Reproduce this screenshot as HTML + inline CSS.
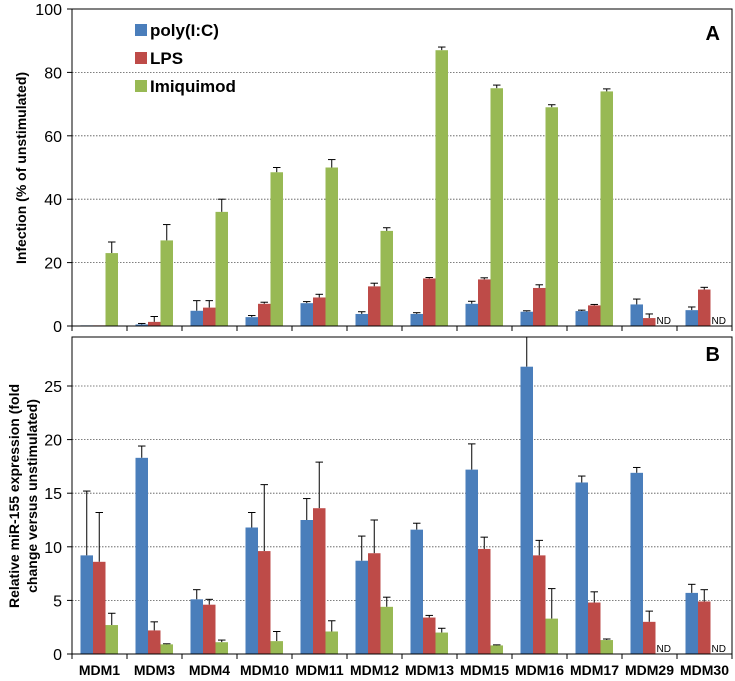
<!DOCTYPE html>
<html><head><meta charset="utf-8"><style>
body{margin:0;background:#fff}
svg{display:block;font-family:"Liberation Sans",Arial,sans-serif}
</style></head><body>
<svg id="c" width="735" height="681"></svg>
<script>
const categories=["MDM1","MDM3","MDM4","MDM10","MDM11","MDM12","MDM13","MDM15","MDM16","MDM17","MDM29","MDM30"];
const seriesNames=["poly(I:C)","LPS","Imiquimod"];
const infPoly=[0.2,0.5,4.8,2.8,7.2,3.8,3.8,7,4.5,4.7,6.8,5];
const infPolyErr=[0,0.3,3.2,0.5,0.5,0.7,0.4,0.8,0.3,0.3,1.7,1];
const infLps=[0.2,1.3,5.8,7,9,12.5,15,14.7,12,6.5,2.5,11.5];
const infLpsErr=[0,1.7,2.2,0.5,1,1,0.3,0.5,1,0.3,1.3,0.7];
const infImq=[23,27,36,48.5,50,30,87,75,69,74,null,null];
const infImqErr=[3.5,5,4,1.5,2.5,1,1,1,0.8,0.8,0,0];
const mirPoly=[9.2,18.3,5.1,11.8,12.5,8.7,11.6,17.2,26.8,16,16.9,5.7];
const mirPolyErr=[6,1.1,0.9,1.4,2,2.3,0.6,2.4,2.8,0.6,0.5,0.8];
const mirLps=[8.6,2.2,4.6,9.6,13.6,9.4,3.4,9.8,9.2,4.8,3,4.9];
const mirLpsErr=[4.6,0.8,0.5,6.2,4.3,3.1,0.2,1.1,1.4,1,1,1.1];
const mirImq=[2.7,0.9,1.1,1.2,2.1,4.4,2,0.8,3.3,1.3,null,null];
const mirImqErr=[1.1,0.05,0.2,0.9,1,0.9,0.4,0.05,2.8,0.1,0,0];
const ticksA=[0,20,40,60,80,100];
const ticksB=[0,5,10,15,20,25];
const colors=["#4a7ebb","#be4b48","#98b954"];
const NS="http://www.w3.org/2000/svg";
const svg=document.getElementById('c');
function mk(t,a,p){const e=document.createElementNS(NS,t);for(const k in a)e.setAttribute(k,a[k]);(p||svg).appendChild(e);return e;}
const X0=72,X1=732,cw=(X1-X0)/categories.length;
function xs(i,s){return X0+i*cw+8.5+s*12.5;}
function drawPanel(frameTop,bottom,scaleY,ticks,series,errs,letter,pname){
  const y=v=>bottom-v*scaleY;
  const g=mk('g',{});
  
  
  ticks.forEach(t=>{
    if(t>0&&y(t)>frameTop+2){const l=mk('line',{x1:X0,x2:X1,y1:y(t),y2:y(t),stroke:'#555','stroke-width':0.8,'stroke-dasharray':'1.5,1.5'},g);
    
    }
    mk('line',{x1:X0-5,x2:X0,y1:y(t),y2:y(t),stroke:'#000'},g);
    const tx=mk('text',{x:X0-10,y:y(t)+6,'text-anchor':'end','font-size':16,fill:'#000'},g);
    tx.textContent=t;
    
    
  });
  series.forEach((vals,s)=>{
    vals.forEach((v,i)=>{
      const x=xs(i,s);
      if(v===null){
        const nd=mk('text',{x:x+1,y:bottom-2,'font-size':10,fill:'#000'},g);
        nd.textContent='ND';
        
        
        return;
      }
      const e=errs[s][i];
      if(e>0){
        const top=Math.max(y(v+e),frameTop);
        mk('line',{x1:x+6.25,x2:x+6.25,y1:y(v),y2:top,stroke:'#000','stroke-width':1},g);
        mk('line',{x1:x+2.5,x2:x+10,y1:top,y2:top,stroke:'#000','stroke-width':1},g);
      }
      const r=mk('rect',{x:x,y:y(v),width:12.5,height:v*scaleY,fill:colors[s]},g);
      
      
    });
  });
  mk('rect',{x:X0,y:frameTop,width:X1-X0,height:bottom-frameTop,fill:'none',stroke:'#000','stroke-width':1},g);
  for(let i=0;i<=categories.length;i++)mk('line',{x1:X0+i*cw,x2:X0+i*cw,y1:bottom,y2:bottom+5,stroke:'#000'},g);
  const L=mk('text',{x:720,y:letter==='A'?40:361,'text-anchor':'end','font-size':20,'font-weight':'bold'},g);
  L.textContent=letter;
  
  
}
drawPanel(9,326,(326-9)/100,ticksA,[infPoly,infLps,infImq],[infPolyErr,infLpsErr,infImqErr],'A','panel-a-infection');
drawPanel(337,654,(654-386)/25,ticksB,[mirPoly,mirLps,mirImq],[mirPolyErr,mirLpsErr,mirImqErr],'B','panel-b-mir155');
categories.forEach((c,i)=>{
  const t=mk('text',{x:X0+(i+0.5)*cw,y:675,'text-anchor':'middle','font-size':14,'font-weight':'bold'});
  t.textContent=c;
  
  
});
seriesNames.forEach((n,s)=>{
  const g=mk('g',{});
  
  
  mk('rect',{x:135,y:24+s*28,width:12,height:12,fill:colors[s]},g);
  const t=mk('text',{x:150,y:36+s*28,'font-size':17,'font-weight':'bold'},g);
  t.textContent=n;
});
const ta=mk('text',{transform:'translate(26,168) rotate(-90)','text-anchor':'middle','font-size':14,'font-weight':'bold'});
ta.textContent='Infection (% of unstimulated)';


const tb1=mk('text',{transform:'translate(19,496) rotate(-90)','text-anchor':'middle','font-size':14,'font-weight':'bold'});
tb1.textContent='Relative miR-155 expression (fold';


const tb2=mk('text',{transform:'translate(37,496) rotate(-90)','text-anchor':'middle','font-size':14,'font-weight':'bold'});
tb2.textContent='change versus unstimulated)';


</script>
</body></html>
